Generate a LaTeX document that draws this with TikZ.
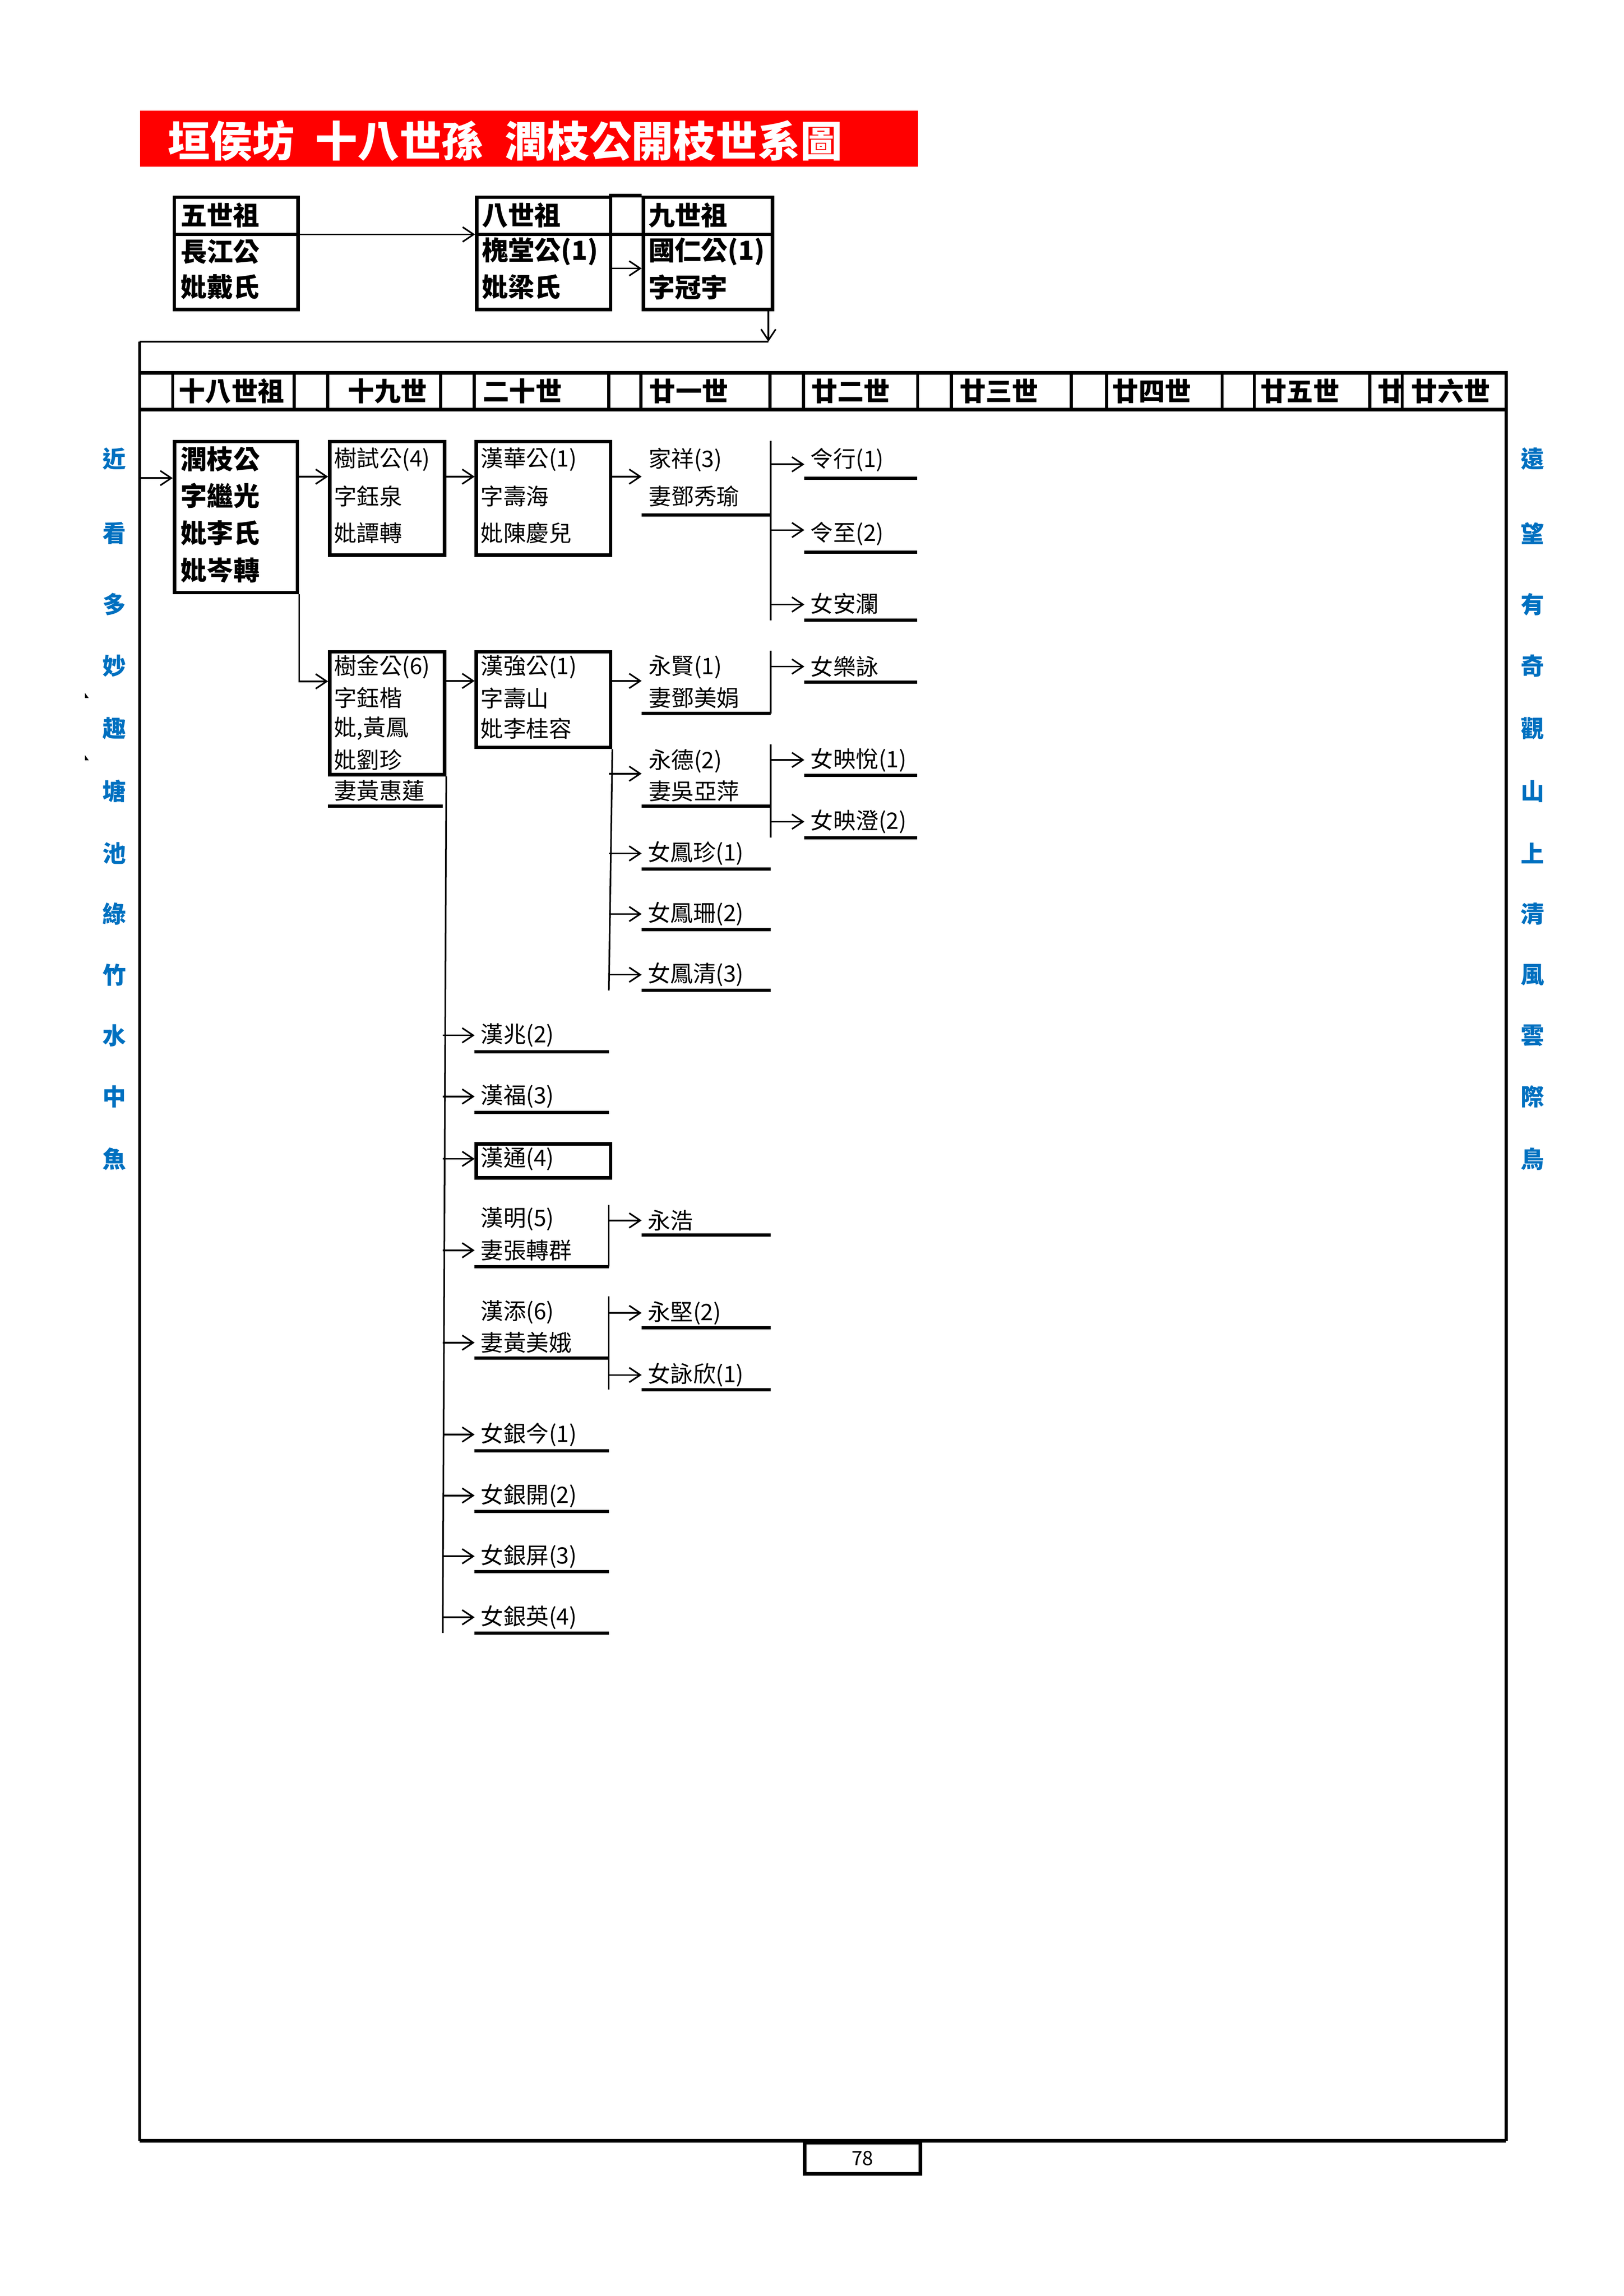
\documentclass[tikz,border=0pt]{standalone}
\usepackage{fontspec}
\setmainfont{Noto Sans CJK TC}
\usetikzlibrary{arrows.meta}
\definecolor{titlered}{RGB}{255,0,0}
\definecolor{poemblue}{RGB}{0,112,192}
\tikzset{
  boxn/.style={draw, line width=2.4pt, inner sep=0pt, anchor=north west},
  conn/.style={line width=1.1pt},
  arr/.style={line width=1.1pt, -{Straight Barb[length=7.5pt,width=10pt,line width=1.1pt]}},
  ul/.style={line width=2.2pt},
  hdr/.style={line width=2.4pt},
  hdrv/.style={line width=2.1pt},
  rt/.style={inner sep=0pt, anchor=west, font=\fontsize{15.5}{18}\selectfont},
  bt/.style={inner sep=0pt, anchor=west, font=\fontsize{18}{21}\selectfont\bfseries},
  poem/.style={inner sep=0pt, anchor=center, text=poemblue, font=\fontsize{16}{18}\selectfont\bfseries},
}
% #1 name, #2 text, #3 vertical x, #4 column start, #5 column end, #6 arrow y, #7 text y, #8 underline y
\newcommand\leafrow[8]{%
  \coordinate (#1s) at (#3,#6);
  \coordinate (#1e) at (#4,#6);
  \draw[arr] (#1s) -- (#1e);
  \node[rt] (#1) at (#4+4,#7) {#2};
  \coordinate (#1u1) at (#4,#8);
  \coordinate (#1u2) at (#5,#8);
  \draw[ul] (#1u1) -- (#1u2);
}
\begin{document}
\begin{tikzpicture}[x=1pt,y=-1pt]
\useasboundingbox (0,0) rectangle (1109.4,1569);

% ---------- title ----------
\node[fill=titlered, inner sep=0pt, anchor=north west, minimum width=531.5pt, minimum height=38.4pt] (title) at (95.5,75.3) {};
\node[inner sep=0pt, anchor=west, text=white, font=\fontsize{28.8}{32}\selectfont\bfseries] (titletext) at (114.5,96.2) {垣侯坊\hspace{0.5em}十八世孫\hspace{0.5em}潤枝公開枝世系圖};

% ---------- ancestor boxes ----------
\node[boxn, minimum width=84.5pt, minimum height=76.7pt] (A) at (117.9,133.6) {};
\node[boxn, minimum width=91.4pt, minimum height=76.7pt] (B) at (324.6,133.6) {};
\node[boxn, minimum width=88.3pt, minimum height=76.7pt] (C) at (438.4,133.6) {};
\draw[hdr] (117.9,160.2) -- (202.4,160.2);
\draw[hdr] (324.6,160.2) -- (526.7,160.2);
\draw[hdr] (416,133.6) -- (438.4,133.6);
\node[bt] (a1) at (123.2,147.2) {五世祖};
\node[bt] (a2) at (123.2,172) {長江公};
\node[bt] (a3) at (123.2,196.2) {妣戴氏};
\node[bt] (b1) at (329,147.2) {八世祖};
\node[bt] (b2) at (329,172) {槐堂公(1)};
\node[bt] (b3) at (329,196.2) {妣梁氏};
\node[bt] (c1) at (442.9,147.2) {九世祖};
\node[bt] (c2) at (442.9,172) {國仁公(1)};
\node[bt] (c3) at (442.9,196.2) {字冠宇};
\coordinate (ab) at (0,160.2);
\draw[arr] (A.east |- ab) -- (B.west |- ab);
\coordinate (bc) at (0,183.4);
\draw[arr] (B.east |- bc) -- (C.west |- bc);
\coordinate (cd) at (525,233.5);
\draw[arr] (C.south -| cd) -- (cd);

% ---------- frame ----------
\coordinate (fTL) at (95.5,233.5);
\coordinate (fBL) at (95.5,1462.9);
\coordinate (fBR) at (1029,1462.9);
\coordinate (fTR) at (1029,253.6);
\draw[line width=1.4pt] (fTL) -- (cd);
\draw[line width=1.9pt] (fTL) -- (fBL);
\draw[line width=2.6pt] (fBL) -- (fBR);
\draw[line width=2.2pt] (fBR) -- (fTR);
\node[draw, line width=2.5pt, inner sep=0pt, anchor=north west, minimum width=79.3pt, minimum height=21.4pt, font=\fontsize{13.5}{15}\selectfont] (pn) at (548.4,1462.9) {78};

% ---------- header row ----------
\draw[hdr] (95.5,254.8) -- (1029,254.8);
\draw[hdr] (95.5,280) -- (1029,280);
\foreach \x in {118,201,224,301,324,416,438,526,549,627,650,732,756,835,857,936,958}
  \draw[hdrv] (\x,254.8) -- (\x,280);
\node[bt] (g18) at (122,267.3) {十八世祖};
\node[bt] (g19) at (237.6,267.3) {十九世};
\node[bt] (g20) at (329.7,267.3) {二十世};
\node[bt] (g21) at (443.4,267.3) {廿一世};
\node[bt] (g22) at (554,267.3) {廿二世};
\node[bt] (g23) at (655.4,267.3) {廿三世};
\node[bt] (g24) at (759.8,267.3) {廿四世};
\node[bt] (g25) at (861,267.3) {廿五世};
\node[bt] (g25b) at (941,267.3) {廿};
\node[bt] (g26) at (964,267.3) {廿六世};

% ---------- side poems ----------
\foreach \c/\y [count=\i] in {近/313.4,看/364.4,多/413.1,妙/455,趣/497.8,塘/540.6,池/583.2,綠/624.6,竹/666.1,水/707.5,中/749.3,魚/791.9}
  \node[poem] (pl\i) at (78.2,\y) {\c};
\foreach \c/\y [count=\i] in {遠/313.4,望/364.4,有/413.1,奇/455,觀/497.8,山/540.6,上/583.2,清/624.6,風/666.1,雲/707.5,際/749.3,鳥/791.9}
  \node[poem] (pr\i) at (1047,\y) {\c};
\fill (58,473.5) -- (58,477) -- (60.6,477) -- cycle;
\fill (58,516) -- (58,519.5) -- (60.6,519.5) -- cycle;

% ---------- generation 18 ----------
\node[boxn, minimum width=84pt, minimum height=103.2pt] (R) at (118,300.5) {};
\node[bt] (r1) at (123.3,313.9) {潤枝公};
\node[bt] (r2) at (123.3,338.7) {字繼光};
\node[bt] (r3) at (123.3,364.3) {妣李氏};
\node[bt] (r4) at (123.3,389.7) {妣岑轉};
\coordinate (fin) at (95.5,326.7);
\draw[arr] (fin) -- (R.west |- fin);

% ---------- branch 1 ----------
\node[boxn, minimum width=78.3pt, minimum height=77.6pt] (S1) at (224.2,300.5) {};
\node[rt] (s11) at (228.1,314.1) {樹試公(4)};
\node[rt] (s12) at (228.1,339.2) {字鈺泉};
\node[rt] (s13) at (228.1,364.3) {妣譚轉};
\node[boxn, minimum width=91.7pt, minimum height=77.6pt] (H1) at (324.3,300.5) {};
\node[rt] (h11) at (328.3,314.1) {漢華公(1)};
\node[rt] (h12) at (328.3,339.2) {字壽海};
\node[rt] (h13) at (328.3,364.3) {妣陳慶兒};
\coordinate (y1) at (0,325.7);
\draw[arr] (R.east |- y1) -- (S1.west |- y1);
\draw[arr] (S1.east |- y1) -- (H1.west |- y1);
\coordinate (jx) at (438.4,325.7);
\draw[arr] (H1.east |- jx) -- (jx);
\node[rt] (jx1) at (443,314.1) {家祥(3)};
\node[rt] (jx2) at (443,339.2) {妻鄧秀瑜};
\coordinate (jxu1) at (438.4,351.9);
\coordinate (jxu2) at (526.5,351.9);
\draw[ul] (jxu1) -- (jxu2);
\coordinate (V1t) at (526.5,301.3);
\coordinate (V1b) at (526.5,423.8);
\draw[conn] (V1t) -- (V1b);
\leafrow{l1}{令行(1)}{526.5}{549.6}{626.7}{317.3}{314.1}{326.7}
\leafrow{l2}{令至(2)}{526.5}{549.6}{626.7}{362.2}{364.7}{377.2}
\leafrow{l3}{女安瀾}{526.5}{549.6}{626.7}{413.1}{412.6}{423.7}

% ---------- branch 2 ----------
\node[boxn, minimum width=78.3pt, minimum height=83.9pt] (S2) at (224.2,444.2) {};
\node[rt] (s21) at (228.1,455.8) {樹金公(6)};
\node[rt] (s22) at (228.1,477) {字鈺楷};
\node[rt] (s23) at (228.1,497.8) {妣,黃鳳};
\node[rt] (s24) at (228.1,519.3) {妣劉珍};
\node[rt] (s25) at (228.1,540.3) {妻黃惠蓮};
\coordinate (s2u1) at (224.2,550.8);
\coordinate (s2u2) at (302.5,550.8);
\draw[ul] (s2u1) -- (s2u2);
\coordinate (y2) at (0,465.6);
\draw[arr] (R.south east) -- (R.south east |- y2) -- (S2.west |- y2);

\node[boxn, minimum width=91.7pt, minimum height=65.3pt] (H2) at (324.3,444.2) {};
\node[rt] (h21) at (328.3,455.8) {漢強公(1)};
\node[rt] (h22) at (328.3,477) {字壽山};
\node[rt] (h23) at (328.3,497.8) {妣李桂容};
\coordinate (y3) at (0,465.3);
\draw[arr] (S2.east |- y3) -- (H2.west |- y3);
\coordinate (yx) at (438.4,465.3);
\draw[arr] (H2.east |- yx) -- (yx);
\node[rt] (yx1) at (443,455.8) {永賢(1)};
\node[rt] (yx2) at (443,477) {妻鄧美娟};
\coordinate (yxu1) at (438.4,487.6);
\coordinate (yxu2) at (526.5,487.6);
\draw[ul] (yxu1) -- (yxu2);
\coordinate (V2t) at (526.5,444.7);
\draw[conn] (V2t) -- (yxu2);
\leafrow{l4}{女樂詠}{526.5}{549.6}{626.7}{455.5}{455.5}{466.1}

\coordinate (V3b) at (416,676.8);
\draw[conn] (H2.south east) -- (V3b);
\coordinate (yd) at (438.4,528.7);
\draw[arr] (V3b |- yd) -- (yd);
\node[rt] (yd1) at (443,520.1) {永德(2)};
\node[rt] (yd2) at (443,540.6) {妻吳亞萍};
\coordinate (ydu1) at (438.4,550.8);
\coordinate (ydu2) at (526.5,550.8);
\draw[ul] (ydu1) -- (ydu2);
\coordinate (V4t) at (526.5,508.6);
\coordinate (V4b) at (526.5,572.4);
\draw[conn] (V4t) -- (V4b);
\leafrow{l5}{女映悅(1)}{526.5}{549.6}{626.7}{519.3}{519.3}{529.9}
\leafrow{l6}{女映澄(2)}{526.5}{549.6}{626.7}{561.5}{561.5}{572.4}
\leafrow{m1}{女鳳珍(1)}{416}{438.4}{526.5}{583.2}{583.2}{593.8}
\leafrow{m2}{女鳳珊(2)}{416}{438.4}{526.5}{624.6}{624.6}{635.2}
\leafrow{m3}{女鳳清(3)}{416}{438.4}{526.5}{666.1}{666.1}{676.8}

% ---------- sons of 樹金公 ----------
\coordinate (V5b) at (302.5,1115.9);
\draw[conn] (S2.south east) -- (V5b);
\leafrow{k1}{漢兆(2)}{302.5}{324.3}{416}{707.5}{707.5}{718.6}
\leafrow{k2}{漢福(3)}{302.5}{324.3}{416}{749.3}{749.3}{760.3}
\node[boxn, minimum width=91.7pt, minimum height=23.2pt] (HT) at (324.3,780.4) {};
\node[rt] (ht1) at (328.3,791.9) {漢通(4)};
\coordinate (yt) at (0,791.9);
\draw[arr] (V5b |- yt) -- (HT.west |- yt);

\coordinate (hm) at (324.3,854.4);
\draw[arr] (V5b |- hm) -- (hm);
\node[rt] (hm1) at (328.3,833) {漢明(5)};
\node[rt] (hm2) at (328.3,854.4) {妻張轉群};
\coordinate (hmu1) at (324.3,865.5);
\coordinate (hmu2) at (416,865.5);
\draw[ul] (hmu1) -- (hmu2);
\coordinate (V6t) at (416,823.3);
\draw[conn] (V6t) -- (hmu2);
\leafrow{m4}{永浩}{416}{438.4}{526.5}{834}{834}{844.1}

\coordinate (hn) at (324.3,917.5);
\draw[arr] (V5b |- hn) -- (hn);
\node[rt] (hn1) at (328.3,896.8) {漢添(6)};
\node[rt] (hn2) at (328.3,917.5) {妻黃美娥};
\coordinate (hnu1) at (324.3,928.2);
\coordinate (hnu2) at (416,928.2);
\draw[ul] (hnu1) -- (hnu2);
\coordinate (V7t) at (416,886);
\coordinate (V7b) at (416,949.6);
\draw[conn] (V7t) -- (V7b);
\leafrow{m5}{永堅(2)}{416}{438.4}{526.5}{897.2}{897.2}{907.3}
\leafrow{m6}{女詠欣(1)}{416}{438.4}{526.5}{939.6}{939.6}{949.6}

\leafrow{k3}{女銀今(1)}{302.5}{324.3}{416}{980.3}{980.3}{991.3}
\leafrow{k4}{女銀開(2)}{302.5}{324.3}{416}{1022}{1022}{1032.9}
\leafrow{k5}{女銀屏(3)}{302.5}{324.3}{416}{1063.5}{1063.5}{1073.9}
\leafrow{k6}{女銀英(4)}{302.5}{324.3}{416}{1105.2}{1105.2}{1115.9}
\end{tikzpicture}
\end{document}
